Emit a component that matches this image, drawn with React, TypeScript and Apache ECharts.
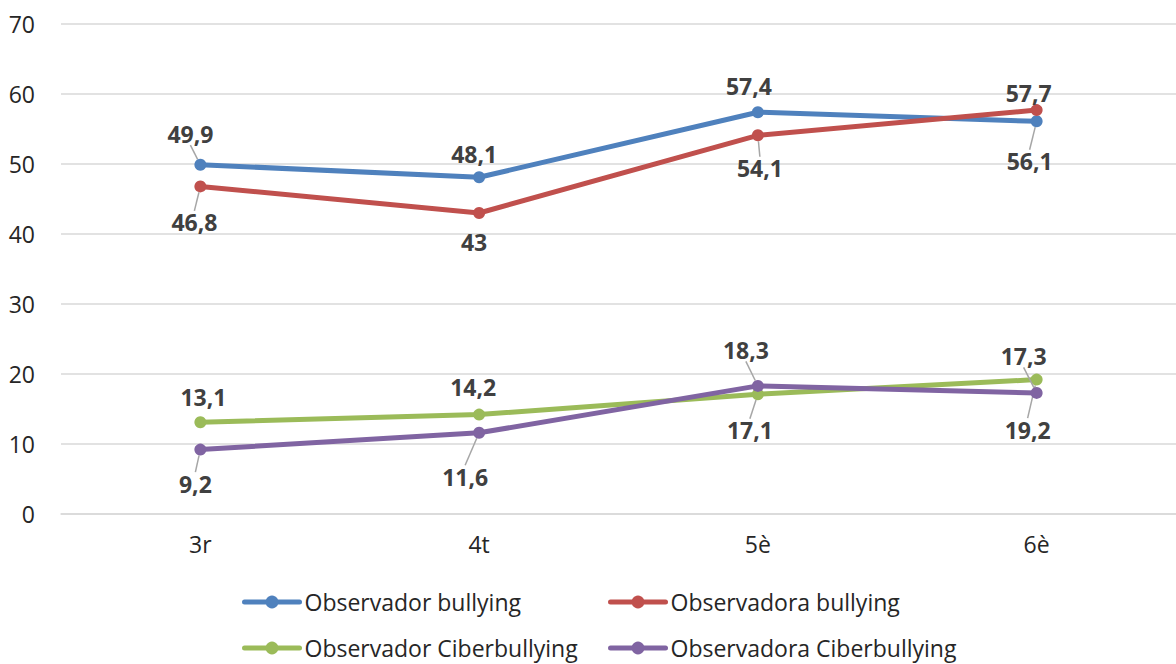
import React, { useEffect, useRef } from "react";
import * as echarts from "echarts";

// Grade levels on the category axis
const categories = ["3r", "4t", "5è", "6è"];

// Series names (legend order)
const seriesNames = [
  "Observador bullying",
  "Observadora bullying",
  "Observador Ciberbullying",
  "Observadora Ciberbullying",
];

// Percentages per grade
const observadorBullying = [49.9, 48.1, 57.4, 56.1];
const observadoraBullying = [46.8, 43, 54.1, 57.7];
const observadorCiberbullying = [13.1, 14.2, 17.1, 19.2];
const observadoraCiberbullying = [9.2, 11.6, 18.3, 17.3];

// Value axis range
const yMin = 0;
const yMax = 70;
const yStep = 10;

const seriesColors = ["#4F81BD", "#C0504D", "#9BBB59", "#8064A2"];

// Data label shift from each point [dx, dy] and whether a leader line is drawn
const labelShift: [number, number, boolean][][] = [
  [[-10, -31, true], [-5, -23, false], [-9, -26, false], [-7, 40, true]],
  [[-6, 36, true], [-5, 29, false], [2, 33, true], [-8, -17, false]],
  [[3, -25, false], [-6, -28, false], [-8, 36, true], [-9, 50, true]],
  [[-5, 34, true], [-14, 44, true], [-12, -36, true], [-13, -37, true]],
];

const seriesValues = [
  observadorBullying,
  observadoraBullying,
  observadorCiberbullying,
  observadoraCiberbullying,
];

const FONT = "'Open Sans', 'DejaVu Sans', sans-serif";

export default function App() {
  const ref = useRef<HTMLDivElement>(null);

  useEffect(() => {
    if (!ref.current) return;
    const chart = echarts.init(ref.current, undefined, { renderer: "svg" });

    const series = seriesValues.map((values, si) => ({
      name: seriesNames[si],
      type: "line",
      data: values.map((v, di) => ({
        value: v,
        labelLine: { show: labelShift[si][di][2] },
      })),
      symbol: "circle",
      symbolSize: 12,
      showSymbol: true,
      color: seriesColors[si],
      lineStyle: { width: 5, color: seriesColors[si], cap: "round" },
      itemStyle: { color: seriesColors[si] },
      label: {
        show: true,
        position: "inside",
        color: "#404040",
        fontFamily: FONT,
        fontWeight: "bold",
        fontSize: 23,
        formatter: (p: any) => String(p.value).replace(".", ","),
      },
      labelLine: {
        show: false,
        length2: 0,
        lineStyle: { color: "#A6A6A6", width: 1.5 },
      },
      labelLayout: (p: any) => {
        const s = labelShift[p.seriesIndex][p.dataIndex];
        return { dx: s[0], dy: s[1] };
      },
      emphasis: { disabled: true },
      z: 2 + si,
    }));

    const legends = seriesNames.map((name, i) => ({
      data: [name],
      left: i % 2 === 0 ? 242 : 608,
      top: i < 2 ? 590 : 636,
      padding: 0,
      itemWidth: 55,
      itemHeight: 16,
      selectedMode: false,
      lineStyle: { width: 5 },
      textStyle: {
        fontFamily: FONT,
        fontSize: 23,
        color: "#262626",
        lineHeight: 24,
      },
    }));

    chart.setOption({
      animation: false,
      backgroundColor: "#ffffff",
      grid: { left: 61, top: 24, width: 1128, height: 490, containLabel: false },
      xAxis: {
        type: "category",
        data: categories,
        boundaryGap: true,
        axisLine: { show: true, lineStyle: { color: "#D9D9D9", width: 1.5 } },
        axisTick: { show: false },
        axisLabel: {
          margin: 18,
          fontFamily: FONT,
          fontSize: 23,
          color: "#262626",
        },
      },
      yAxis: {
        type: "value",
        min: yMin,
        max: yMax,
        interval: yStep,
        axisLine: { show: false },
        axisTick: { show: false },
        splitLine: { lineStyle: { color: "#D9D9D9", width: 1.5 } },
        axisLabel: {
          margin: 26,
          fontFamily: FONT,
          fontSize: 23,
          color: "#262626",
        },
      },
      legend: legends,
      series,
    });

    return () => chart.dispose();
  }, []);

  return (
    <div
      ref={ref}
      style={{ position: "absolute", left: 0, top: 0, width: 1176, height: 664 }}
    />
  );
}
